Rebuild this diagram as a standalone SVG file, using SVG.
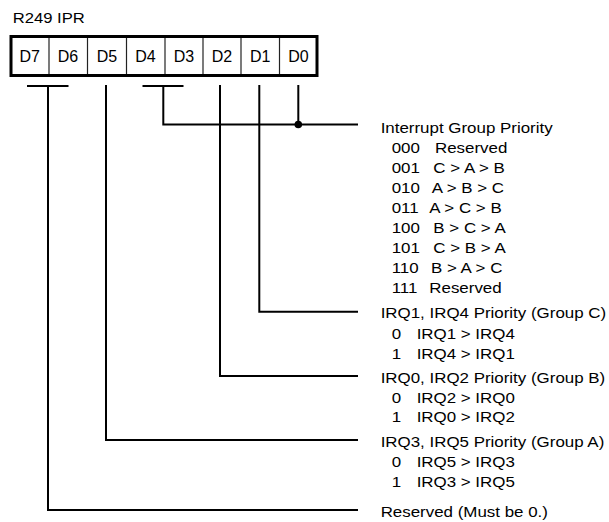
<svg xmlns="http://www.w3.org/2000/svg" width="609" height="522" viewBox="0 0 609 522">
<style>
.lbl{font-family:"Liberation Sans",Arial,sans-serif;font-size:15.5px;fill:#000}
.ttl{font-family:"Liberation Sans",Arial,sans-serif;font-size:15px;fill:#000}
.cell{font-family:"Liberation Sans",Arial,sans-serif;font-size:16px;fill:#000;text-anchor:middle}
.wire{fill:none;stroke:#000;stroke-width:2}
.div{stroke:#222;stroke-width:1.2}
</style>
<rect width="609" height="522" fill="#fff"/>
<g id="title"><text class="ttl" transform="scale(1.11 1)" x="11.4" y="23.3">R249 IPR</text></g>
<g id="register">
<rect x="11" y="36.5" width="306" height="39" fill="#fff" stroke="#000" stroke-width="3"/>
<line class="div" x1="49" y1="38" x2="49" y2="74"/>
<line class="div" x1="87.5" y1="38" x2="87.5" y2="74"/>
<line class="div" x1="126.5" y1="38" x2="126.5" y2="74"/>
<line class="div" x1="165" y1="38" x2="165" y2="74"/>
<line class="div" x1="203" y1="38" x2="203" y2="74"/>
<line class="div" x1="241" y1="38" x2="241" y2="74"/>
<line class="div" x1="279.5" y1="38" x2="279.5" y2="74"/>
<text class="cell" x="29.7" y="61.7">D7</text>
<text class="cell" x="68" y="61.7">D6</text>
<text class="cell" x="107" y="61.7">D5</text>
<text class="cell" x="145.5" y="61.7">D4</text>
<text class="cell" x="184" y="61.7">D3</text>
<text class="cell" x="222" y="61.7">D2</text>
<text class="cell" x="260.3" y="61.7">D1</text>
<text class="cell" x="298.5" y="61.7">D0</text>
</g>
<g id="connectors">
<path class="wire" d="M27 86H68.5M48 86V510H358"/>
<path class="wire" d="M106 85V440H358"/>
<path class="wire" d="M142.5 86H183.5M163.3 86V124.5H358"/>
<path class="wire" d="M220 85V376H358"/>
<path class="wire" d="M259.3 85V311.7H358"/>
<path class="wire" d="M298.3 85V124.5"/>
<circle cx="298.3" cy="124.5" r="3.8" fill="#000"/>
</g>
<g transform="scale(1.091 1)">
<g id="group-priority">
<text class="lbl" x="348.9" y="133">Interrupt Group Priority</text>
<text class="lbl" x="359" y="153">000</text><text class="lbl" x="398.7" y="153">Reserved</text>
<text class="lbl" x="359" y="173">001</text><text class="lbl" x="397.2" y="173">C &gt; A &gt; B</text>
<text class="lbl" x="359" y="193">010</text><text class="lbl" x="395.7" y="193">A &gt; B &gt; C</text>
<text class="lbl" x="359" y="213">011</text><text class="lbl" x="393.5" y="213">A &gt; C &gt; B</text>
<text class="lbl" x="359" y="233">100</text><text class="lbl" x="397.2" y="233">B &gt; C &gt; A</text>
<text class="lbl" x="359" y="253">101</text><text class="lbl" x="397.2" y="253">C &gt; B &gt; A</text>
<text class="lbl" x="359" y="273">110</text><text class="lbl" x="395" y="273">B &gt; A &gt; C</text>
<text class="lbl" x="359" y="293">111</text><text class="lbl" x="393.5" y="293">Reserved</text>
</g>
<g id="group-c">
<text class="lbl" x="348.9" y="318">IRQ1, IRQ4 Priority (Group C)</text>
<text class="lbl" x="359" y="339">0</text><text class="lbl" x="381.9" y="339">IRQ1 &gt; IRQ4</text>
<text class="lbl" x="359" y="359">1</text><text class="lbl" x="381.9" y="359">IRQ4 &gt; IRQ1</text>
</g>
<g id="group-b">
<text class="lbl" x="348.9" y="383.5">IRQ0, IRQ2 Priority (Group B)</text>
<text class="lbl" x="359" y="403">0</text><text class="lbl" x="381.9" y="403">IRQ2 &gt; IRQ0</text>
<text class="lbl" x="359" y="422.5">1</text><text class="lbl" x="381.9" y="422.5">IRQ0 &gt; IRQ2</text>
</g>
<g id="group-a">
<text class="lbl" x="348.9" y="447.5">IRQ3, IRQ5 Priority (Group A)</text>
<text class="lbl" x="359" y="467.5">0</text><text class="lbl" x="381.9" y="467.5">IRQ5 &gt; IRQ3</text>
<text class="lbl" x="359" y="487">1</text><text class="lbl" x="381.9" y="487">IRQ3 &gt; IRQ5</text>
</g>
<g id="reserved">
<text class="lbl" x="348.9" y="517">Reserved (Must be 0.)</text>
</g>
</g>
</svg>
